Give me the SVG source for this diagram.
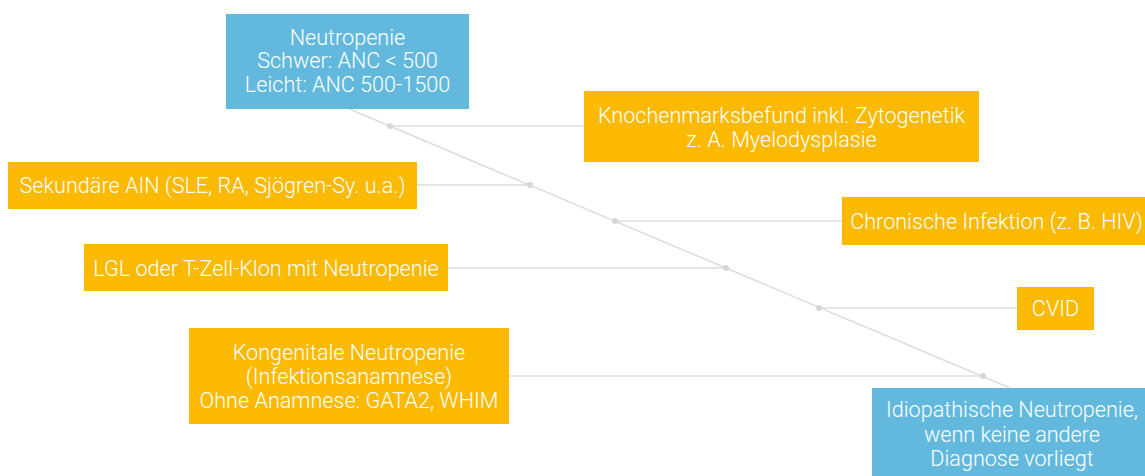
<svg xmlns="http://www.w3.org/2000/svg" width="1145" height="476" viewBox="0 0 1145 476">
<style>
.c{stroke:#dcdcdc;stroke-width:1.5;fill:none}
.d{fill:#d6d6d6}
.b{fill:#62b9dd}
.o{fill:#fbb900}
text{font-family:Roboto,"Liberation Sans",sans-serif;font-weight:300;font-size:21.6px;fill:#fff;text-anchor:middle}
</style>
<rect width="1145" height="476" fill="#fff"/>
<g id="connectors">
<line class="c" x1="347" y1="108" x2="1010" y2="388"/>
<line class="c" x1="390" y1="126" x2="584" y2="126"/>
<line class="c" x1="417" y1="185" x2="530" y2="185"/>
<line class="c" x1="615" y1="221" x2="842" y2="221"/>
<line class="c" x1="448" y1="268" x2="726" y2="268"/>
<line class="c" x1="819" y1="308" x2="1017" y2="308"/>
<line class="c" x1="509" y1="376" x2="983" y2="376"/>
<circle class="d" cx="390" cy="126" r="3"/>
<circle class="d" cx="530" cy="185" r="3"/>
<circle class="d" cx="615" cy="221" r="3"/>
<circle class="d" cx="726" cy="268" r="3"/>
<circle class="d" cx="819" cy="308" r="3"/>
<circle class="d" cx="983" cy="376" r="3"/>
</g>
<g id="neutropenie">
<rect class="b" x="226" y="14" width="243" height="95"/>
<text x="347.5" y="45">Neutropenie</text>
<text x="347.5" y="68">Schwer: ANC &lt; 500</text>
<text x="347.5" y="91.5">Leicht: ANC 500-1500</text>
</g>
<g id="knochenmark">
<rect class="o" x="584" y="91" width="395" height="71"/>
<text x="781.5" y="122.5">Knochenmarksbefund inkl. Zytogenetik</text>
<text x="781.5" y="146.5">z. A. Myelodysplasie</text>
</g>
<g id="sekundaer">
<rect class="o" x="8" y="162" width="409" height="47"/>
<text x="212.5" y="193">Sekundäre AIN (SLE, RA, Sjögren-Sy. u.a.)</text>
</g>
<g id="chronisch">
<rect class="o" x="842" y="197" width="310" height="48"/>
<text x="996.5" y="229">Chronische Infektion (z. B. HIV)</text>
</g>
<g id="lgl">
<rect class="o" x="84" y="244" width="364" height="47"/>
<text x="266" y="275.5">LGL oder T-Zell-Klon mit Neutropenie</text>
</g>
<g id="cvid">
<rect class="o" x="1017" y="287" width="77" height="43"/>
<text x="1055.5" y="316">CVID</text>
</g>
<g id="kongenital">
<rect class="o" x="189" y="328" width="320" height="96"/>
<text x="349" y="359.5">Kongenitale Neutropenie</text>
<text x="349" y="383.5">(Infektionsanamnese)</text>
<text x="349" y="407.5">Ohne Anamnese: GATA2, WHIM</text>
</g>
<g id="idiopathisch">
<rect class="b" x="872" y="388" width="280" height="95"/>
<text x="1012" y="417">Idiopathische Neutropenie,</text>
<text x="1012" y="441.5">wenn keine andere</text>
<text x="1012" y="465.5">Diagnose vorliegt</text>
</g>
</svg>
